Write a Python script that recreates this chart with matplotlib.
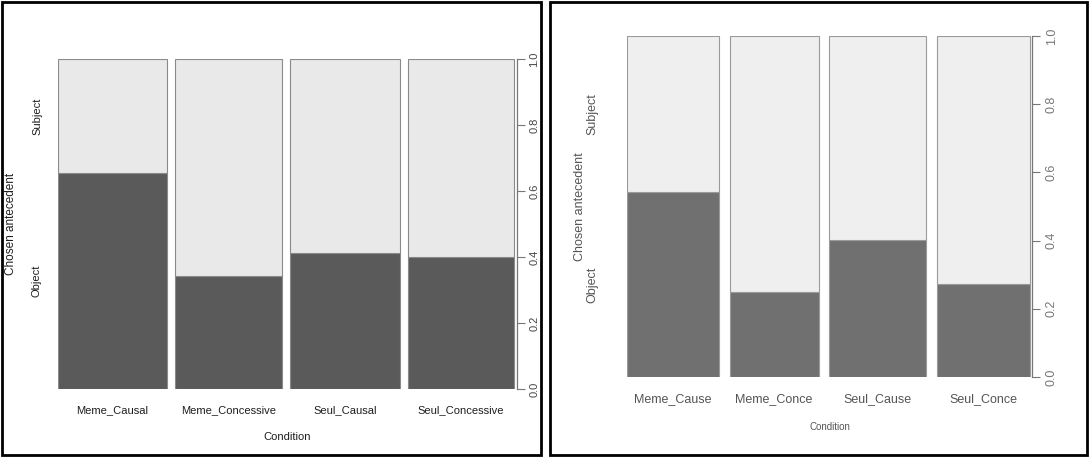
import matplotlib
matplotlib.use("Agg")
import matplotlib.pyplot as plt
import matplotlib.transforms as mtransforms
from matplotlib.patches import Rectangle
import numpy as np

plt.rcParams['font.family'] = ['Liberation Sans', 'DejaVu Sans']

# left panel: spineplot of chosen antecedent by condition
left_conditions = ['Meme_Causal', 'Meme_Concessive', 'Seul_Causal', 'Seul_Concessive']
left_widths = [110, 107, 110, 107]          # relative group sizes
left_object = [0.655, 0.342, 0.412, 0.400]  # proportion "Object"

# right panel
right_conditions = ['Meme_Cause', 'Meme_Conce', 'Seul_Cause', 'Seul_Conce']
right_widths = [92, 89, 97, 93]
right_object = [0.543, 0.249, 0.402, 0.273]

levels = ['Object', 'Subject']
yticks = [0.0, 0.2, 0.4, 0.6, 0.8, 1.0]

W, H = 1089, 457
fig = plt.figure(figsize=(W / 100, H / 100), dpi=100)


def fx(px):
    return px / W


def fy(py):
    return 1 - py / H


def spineplot(box, widths, obj, names, gap, dark, light, edge, txt, tcol,
              ylab_x, title_x, xlab_y, cond_y, fs_tick, fs_lab, fs_title, pad):
    x0, x1, y0, y1 = box
    ax = fig.add_axes([fx(x0), fy(y1), fx(x1) - fx(x0), fy(y0) - fy(y1)])
    w = np.array(widths, dtype=float)
    w = w / w.sum()
    lefts = np.concatenate([[0], np.cumsum(w + gap)[:-1]])
    ax.bar(lefts, obj, width=w, align='edge', color=dark, edgecolor=edge, linewidth=0.8)
    ax.bar(lefts, 1 - np.array(obj), width=w, bottom=obj, align='edge',
           color=light, edgecolor=edge, linewidth=0.8)
    total = lefts[-1] + w[-1]
    ax.set_xlim(0, total + 0.006)
    ax.set_ylim(0, 1)
    for s in ['left', 'top', 'bottom']:
        ax.spines[s].set_visible(False)
    ax.spines['right'].set_color('#777777')
    ax.spines['right'].set_linewidth(0.9)
    ax.set_xticks([])
    ax.yaxis.tick_right()
    ax.set_yticks(yticks)
    ax.set_yticklabels([f'{v:.1f}' for v in yticks], rotation=90, va='center')
    ax.tick_params(axis='y', length=6, width=0.8, color='#777777',
                   labelcolor=tcol, labelsize=fs_tick, pad=pad)

    # condition labels under bars
    tr = mtransforms.blended_transform_factory(ax.transData, fig.transFigure)
    for l, wi, name in zip(lefts, w, names):
        fig.text(l + wi / 2, fy(xlab_y), name, transform=tr, ha='center', va='center',
                 fontsize=fs_tick, color=txt)
    fig.text((fx(x0) + fx(x1)) / 2, fy(cond_y), 'Condition', ha='center', va='center',
             fontsize=fs_lab, color=txt)

    # level labels at the middle of the first bar's segments
    tr2 = mtransforms.blended_transform_factory(fig.transFigure, ax.transData)
    mids = [obj[0] / 2, obj[0] + (1 - obj[0]) / 2]
    for m, lev in zip(mids, levels):
        fig.text(fx(ylab_x), m, lev, transform=tr2, rotation=90, ha='center', va='center',
                 fontsize=fs_tick, color=txt)
    fig.text(fx(title_x), (fy(y0) + fy(y1)) / 2, 'Chosen antecedent', rotation=90,
             ha='center', va='center', fontsize=fs_title, color=txt)
    return ax


spineplot((57.5, 517, 59, 389), left_widths, left_object, left_conditions, 0.018,
          '#5a5a5a', '#e9e9e9', '#8a8a8a', '#1e1e1e', '#444444',
          37, 11, 410, 437, 8, 8, 8.5, 3)
spineplot((627, 1032, 36, 377), right_widths, right_object, right_conditions, 0.028,
          '#707070', '#efefef', '#9a9a9a', '#555555', '#777777',
          592, 580, 399, 427, 9, 7, 9, 4)

# panel frames
fig.patches.append(Rectangle((fx(2), fy(455)), fx(541) - fx(2), fy(2) - fy(455),
                             transform=fig.transFigure, fill=False, edgecolor='black',
                             linewidth=2))
fig.patches.append(Rectangle((fx(550), fy(455)), fx(1087) - fx(550), fy(2) - fy(455),
                             transform=fig.transFigure, fill=False, edgecolor='black',
                             linewidth=2))

fig.savefig('out.png', dpi=100)
